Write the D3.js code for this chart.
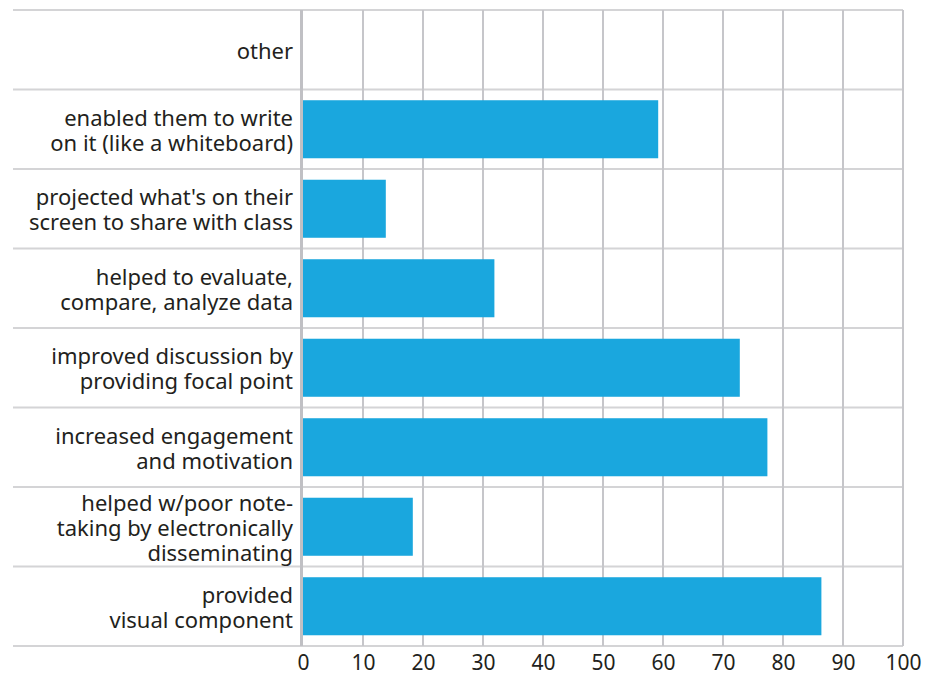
<!DOCTYPE html>
<html>
<head>
<meta charset="utf-8">
<script src="https://cdn.jsdelivr.net/npm/d3@7"></script>
<style>
  body { margin: 0; background: #fff; }
  text { font-family: "Noto Sans", sans-serif; fill: #231f20; }
</style>
</head>
<body>
<div id="chart"></div>
<script>

// categories top to bottom, line breaks as in the picture
const categories = [
	"other",
	"enabled them to write\non it (like a whiteboard)",
	"projected what's on their\nscreen to share with class",
	"helped to evaluate,\ncompare, analyze data",
	"improved discussion by\nproviding focal point",
	"increased engagement\nand motivation",
	"helped w/poor note-\ntaking by electronically\ndisseminating",
	"provided\nvisual component"
];
const values = [0, 59.2, 13.8, 31.9, 72.8, 77.4, 18.3, 86.4];
const tickValues = [0, 10, 20, 30, 40, 50, 60, 70, 80, 90, 100];

const width = 927;
const height = 675;

const xScale = d3.scaleLinear()
	.domain([0, 100])
	.range([303, 903]);
const yScale = d3.scaleBand()
	.domain(categories)
	.range([10, 646])
	.paddingInner(0.27)
	.paddingOuter(0.135);

// band edges for the separator lines
const step = yScale.step();
const bandTop = (d) => yScale(d) - yScale.paddingInner() * step / 2;

let svg = d3.select("#chart")
	.append("svg")
	.attr("width", width)
	.attr("height", height);

// horizontal separators
const sepY = categories.map(bandTop).concat([646]);
sepY[0] = 10;
svg.append("g").selectAll("line").data(sepY).enter()
	.append("line")
		.attr("x1", 13)
		.attr("x2", xScale(100))
		.attr("y1", (d) => d)
		.attr("y2", (d) => d)
		.attr("stroke", "#d4d4d6")
		.attr("stroke-width", 2);

// vertical gridlines
svg.append("g").selectAll("line").data(tickValues.slice(1)).enter()
	.append("line")
		.attr("x1", (d) => xScale(d))
		.attr("x2", (d) => xScale(d))
		.attr("y1", 10)
		.attr("y2", 646)
		.attr("stroke", "#c6c6ca")
		.attr("stroke-width", 2);

// bars
svg.append("g").selectAll("rect").data(values).enter()
	.append("rect")
		.attr("x", xScale(0))
		.attr("y", (d, i) => yScale(categories[i]))
		.attr("width", (d) => xScale(d) - xScale(0))
		.attr("height", yScale.bandwidth())
		.attr("fill", "#1aa7de");

// zero line
svg.append("line")
	.attr("x1", xScale(0) - 1.5)
	.attr("x2", xScale(0) - 1.5)
	.attr("y1", 10)
	.attr("y2", 646)
	.attr("stroke", "#c0c0c4")
	.attr("stroke-width", 3);

// x axis labels
const xAxis = svg.append("g")
	.attr("transform", "translate(0, 646)")
	.call(d3.axisBottom(xScale).tickValues(tickValues).tickSize(0).tickPadding(9));
xAxis.select(".domain").remove();
xAxis.selectAll("text")
	.attr("font-size", 21)
	.attr("dy", "0.71em")
	.style("font-family", "'Noto Sans', sans-serif")
	.attr("fill", "#231f20");

// category labels, multi-line
const lineH = 25;
const labels = svg.append("g").selectAll("text").data(categories).enter()
	.append("text")
		.attr("x", 293)
		.attr("y", (d) => yScale(d) + yScale.bandwidth() / 2)
		.attr("text-anchor", "end")
		.attr("font-size", 22);

labels.each(function(d) {
	const lines = d.split("\n");
	const t = d3.select(this);
	lines.forEach((ln, i) => {
		t.append("tspan")
			.attr("x", 293)
			.attr("dy", i === 0 ? ((-(lines.length - 1) / 2) * lineH + 9) : lineH)
			.text(ln);
	});
});

</script>
</body>
</html>
